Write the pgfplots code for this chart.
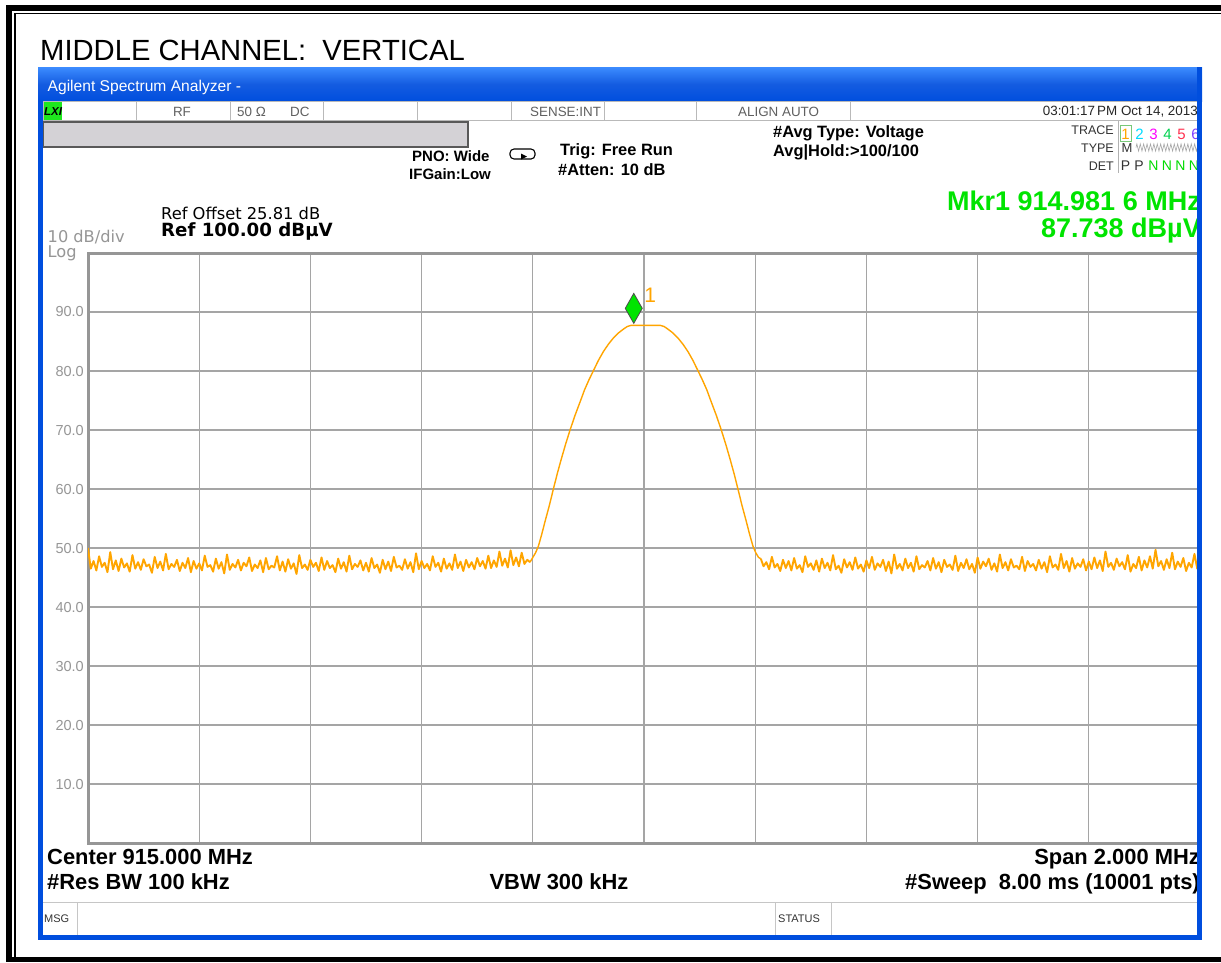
\documentclass[border=0pt]{standalone}
\usepackage{fontspec}
\setmainfont{Liberation Sans}
\newfontfamily\dejavu{DejaVu Sans}
\usepackage{pgfplots}
\usepackage{pgfplotstable}
\pgfplotsset{compat=1.18}
\usetikzlibrary{decorations.pathmorphing}
\definecolor{trace}{RGB}{255,165,0}
\definecolor{mkgreen}{RGB}{0,228,0}
\definecolor{lxigreen}{RGB}{30,230,30}
\definecolor{xpblue}{RGB}{0,78,222}
\definecolor{xplight}{RGB}{60,140,255}
\definecolor{uigray}{RGB}{96,96,96}
\definecolor{lblgray}{RGB}{150,150,150}
\definecolor{gridgray}{RGB}{165,165,165}
\definecolor{framegray}{RGB}{150,150,150}
\definecolor{boxgray}{RGB}{212,210,214}
\definecolor{boxgreen}{RGB}{120,200,120}
\definecolor{tcyan}{RGB}{0,220,255}
\definecolor{tmag}{RGB}{255,0,255}
\definecolor{tgreen}{RGB}{0,210,80}
\definecolor{tred}{RGB}{255,50,80}
\definecolor{tpurple}{RGB}{130,60,255}
\definecolor{ngreen}{RGB}{0,220,0}
\newcommand{\fs}[1]{\fontsize{#1}{#1}\selectfont}

\pgfplotstableread[row sep=\\]{y\\
50.0\\46.5\\47.8\\46.2\\48.6\\46.8\\47.5\\45.9\\49.3\\46.4\\47.9\\46.1\\48.2\\46.7\\47.4\\46.0\\48.8\\46.5\\47.6\\46.3\\
48.1\\46.9\\47.2\\45.8\\48.5\\46.6\\47.7\\46.2\\49.0\\46.4\\47.3\\46.8\\48.0\\46.1\\47.5\\46.6\\48.3\\45.9\\47.8\\46.5\\
47.4\\46.2\\48.7\\46.8\\47.1\\46.0\\48.2\\46.5\\47.6\\45.7\\48.9\\46.3\\47.3\\46.7\\48.0\\46.2\\47.5\\46.9\\48.4\\46.1\\
47.2\\46.6\\47.9\\45.9\\48.3\\46.4\\47.0\\46.7\\48.6\\46.2\\47.7\\46.0\\48.1\\46.5\\47.4\\45.6\\48.8\\46.6\\47.2\\46.3\\
48.0\\46.8\\47.5\\46.1\\48.4\\46.3\\47.8\\46.6\\47.1\\45.9\\48.2\\46.5\\47.6\\46.0\\48.7\\46.4\\47.3\\46.8\\47.9\\46.2\\
47.5\\46.0\\48.3\\46.6\\47.2\\45.8\\48.0\\46.4\\47.7\\46.1\\48.5\\46.7\\47.0\\46.3\\48.1\\46.5\\47.6\\45.9\\49.1\\46.4\\
47.8\\46.6\\47.3\\46.2\\48.6\\46.8\\47.5\\46.0\\48.2\\46.5\\47.4\\46.3\\48.9\\46.6\\47.7\\46.1\\48.0\\46.7\\47.6\\46.4\\
48.3\\46.9\\47.8\\46.5\\48.7\\46.6\\47.9\\46.8\\49.4\\47.0\\48.2\\46.7\\49.6\\47.1\\48.4\\46.9\\49.2\\47.3\\48.0\\47.6\\
}\leftnoise

\pgfplotstableread[row sep=\\]{y\\
48.2\\46.9\\47.6\\46.4\\48.5\\46.7\\47.3\\46.1\\48.0\\46.6\\47.8\\46.2\\48.3\\46.5\\47.1\\45.9\\48.6\\46.8\\47.4\\46.3\\
47.9\\46.0\\48.2\\46.6\\47.5\\46.2\\48.8\\46.4\\47.0\\45.8\\48.1\\46.7\\47.6\\46.3\\48.4\\46.5\\47.2\\46.0\\47.9\\46.6\\
48.5\\46.3\\47.4\\46.8\\48.0\\46.1\\47.7\\45.7\\48.9\\46.5\\47.3\\46.2\\48.2\\46.6\\47.5\\46.0\\48.6\\46.4\\47.1\\46.7\\
47.8\\46.2\\48.3\\46.5\\47.6\\45.9\\48.0\\46.8\\47.2\\46.3\\48.7\\46.1\\47.5\\46.6\\48.1\\46.4\\47.3\\45.8\\48.4\\46.5\\
47.7\\46.9\\48.2\\46.3\\47.4\\46.0\\48.9\\46.6\\47.6\\46.2\\48.1\\46.7\\47.0\\46.4\\48.5\\46.1\\47.8\\46.8\\47.3\\46.2\\
48.0\\46.5\\47.6\\45.9\\48.6\\46.7\\47.2\\46.3\\49.0\\46.6\\47.8\\46.0\\48.3\\46.5\\47.4\\46.8\\48.1\\46.2\\47.7\\46.4\\
48.4\\46.6\\47.9\\46.1\\49.4\\46.8\\47.5\\46.3\\48.2\\46.9\\47.6\\46.4\\48.8\\46.0\\47.3\\46.6\\48.5\\46.2\\47.9\\46.7\\
48.6\\46.5\\49.7\\46.9\\47.8\\46.3\\48.1\\46.6\\49.2\\46.4\\47.7\\46.8\\48.3\\46.1\\47.5\\46.7\\49.0\\46.5\\47.6\\
}\rightnoise

\begin{document}
\begin{tikzpicture}
\begin{scope}[x=1pt,y=-1pt]
\useasboundingbox (0,0) rectangle (1221,962);
\fill[white] (0,0) rectangle (1221,962);
% outer double frame
\fill[black] (6,5) rectangle (1221,10.5);
\fill[black] (6,5) rectangle (12,962);
\fill[black] (6,956.5) rectangle (1221,962);
\fill[black] (14,12.5) rectangle (1221,14.3);
\fill[black] (14,12.5) rectangle (15.6,956.5);
% title
\node[anchor=base west,inner sep=0] at (40,60) {\fs{29.2}MIDDLE CHANNEL:\ \ VERTICAL};
% window
\fill[xpblue] (38,67) rectangle (1202,939.5);
\shade[top color=xplight,bottom color=xpblue,middle color=xpblue!92!white] (38,67) rectangle (1202,101);
\fill[white] (43,101) rectangle (1197,935);
\node[anchor=base west,inner sep=0,text=white] at (47.5,91.5) {\fs{15.6}Agilent Spectrum Analyzer -};
% status row
\draw[gray!55,line width=1pt] (43,101.5) rectangle (1197,120.5);
\foreach \sx in {136,230,323,417,511,604,696,850}
  \draw[gray!55,line width=1pt] (\sx,101.5) -- (\sx,120.5);
\fill[lxigreen] (43.5,102) rectangle (62,120);
\node[anchor=base west,inner sep=0] at (44,115.5) {\fs{11.5}\bfseries\itshape LXI};
\node[anchor=base,inner sep=0,text=uigray] at (182,116) {\fs{13.4}RF};
\node[anchor=base west,inner sep=0,text=uigray] at (237,116) {\fs{13.4}50 Ω};
\node[anchor=base west,inner sep=0,text=uigray] at (290,116) {\fs{13.4}DC};
\node[anchor=base west,inner sep=0,text=uigray] at (530,116) {\fs{13.4}SENSE:INT};
\node[anchor=base west,inner sep=0,text=uigray] at (738,116) {\fs{13.4}ALIGN AUTO};
\node[anchor=base east,inner sep=0,text=black!85] at (1198,115.5) {\fs{13.4}03:01:17\,PM Oct 14, 2013};
% gray box
\draw[fill=boxgray,draw=black!65,line width=1.2pt] (43.5,122) rectangle (468,147);
% settings
\node[anchor=base west,inner sep=0] at (412,161) {\fs{15}\bfseries PNO: Wide};
\node[anchor=base west,inner sep=0] at (409,179) {\fs{15}\bfseries IFGain:Low};
\draw[line width=1.1pt,rounded corners=4pt] (510,149) rectangle (535,159);
\fill[black] (521,153.5) -- (527,156.5) -- (521,159.5) -- cycle;
\node[anchor=base west,inner sep=0] at (560,155) {\fs{16.4}\bfseries Trig: Free Run};
\node[anchor=base west,inner sep=0] at (558,175) {\fs{16.4}\bfseries \#Atten: 10 dB};
\node[anchor=base west,inner sep=0] at (773,137) {\fs{16.4}\bfseries \#Avg Type: Voltage};
\node[anchor=base west,inner sep=0] at (773,156) {\fs{16.4}\bfseries Avg|Hold:>100/100};
% trace table
\node[anchor=base east,inner sep=0,text=black!80] at (1114,134.5) {\fs{12.5}TRACE};
\node[anchor=base east,inner sep=0,text=black!80] at (1114,152.5) {\fs{12.5}TYPE};
\node[anchor=base east,inner sep=0,text=black!80] at (1114,170) {\fs{12.5}DET};
\draw[gray!60,line width=1pt] (1118.5,121) -- (1118.5,173);
\draw[boxgreen,line width=1pt] (1120,125) rectangle (1131,141);
\node[anchor=base,inner sep=0,text=trace] at (1125.5,139) {\fs{15}1};
\node[anchor=base,inner sep=0,text=tcyan] at (1139.5,139) {\fs{15}2};
\node[anchor=base,inner sep=0,text=tmag] at (1153.5,139) {\fs{15}3};
\node[anchor=base,inner sep=0,text=tgreen] at (1167.5,139) {\fs{15}4};
\node[anchor=base,inner sep=0,text=tred] at (1181.5,139) {\fs{15}5};
\node[anchor=base,inner sep=0,text=tpurple] at (1195.5,139) {\fs{15}6};
\node[anchor=base,inner sep=0,text=black!80] at (1127,152.5) {\fs{13}M};
\draw[gray!70,line width=0.6pt,decorate,decoration={zigzag,segment length=3.4pt,amplitude=3.6pt}] (1136,147.5) -- (1199,147.5);
\node[anchor=base,inner sep=0,text=black!80] at (1125.5,170) {\fs{14}P};
\node[anchor=base,inner sep=0,text=black!80] at (1139,170) {\fs{14}P};
\foreach \nx in {1153.5,1167,1180.5,1194}
  \node[anchor=base,inner sep=0,text=ngreen] at (\nx,170) {\fs{14}N};
% marker readout
\node[anchor=base east,inner sep=0,text=mkgreen] at (1201,210.5) {\fs{27}\bfseries Mkr1 914.981 6 MHz};
\node[anchor=base east,inner sep=0,text=mkgreen] at (1201,237.5) {\fs{27}\bfseries 87.738 dBµV};
% ref
\node[anchor=base west,inner sep=0] at (161,219.5) {\dejavu\fs{16.3}Ref Offset 25.81 dB};
\node[anchor=base west,inner sep=0] at (161,236.5) {\dejavu\fs{18.2}\bfseries Ref 100.00 dBµV};
\node[anchor=base west,inner sep=0,text=lblgray] at (47.5,242) {\dejavu\fs{16.2}10 dB/div};
\node[anchor=base west,inner sep=0,text=lblgray] at (47.5,257) {\dejavu\fs{16.2}Log};
% bottom annotations
\node[anchor=base west,inner sep=0] at (47,864) {\fs{21.9}\bfseries Center 915.000 MHz};
\node[anchor=base west,inner sep=0] at (47,889) {\fs{21.9}\bfseries \#Res BW 100 kHz};
\node[anchor=base,inner sep=0] at (559,889) {\fs{21.9}\bfseries VBW 300 kHz};
\node[anchor=base east,inner sep=0] at (1200,864) {\fs{21.9}\bfseries Span 2.000 MHz};
\node[anchor=base east,inner sep=0] at (1200,889) {\fs{21.9}\bfseries \#Sweep\ \ 8.00 ms (10001 pts)};
% status bar
\draw[gray!45,line width=1pt] (43,902) -- (1197,902);
\foreach \sx in {77,775,831}
  \draw[gray!45,line width=1pt] (\sx,902) -- (\sx,935);
\node[anchor=base west,inner sep=0,text=black!80] at (44,922) {\fs{11}MSG};
\node[anchor=base west,inner sep=0,text=black!80] at (778,922) {\fs{11}STATUS};
\end{scope}

\begin{axis}[
  at={(88pt,-843pt)}, anchor=south west,
  width=1112pt, height=590pt, scale only axis,
  xmin=914, xmax=916, ymin=0, ymax=100,
  axis line style={draw=framegray,line width=3pt},
  grid=major,
  major grid style={draw=gridgray,line width=1.1pt},
  xtick={914.2,914.4,914.6,914.8,915,915.2,915.4,915.6,915.8},
  xticklabels={},
  ytick={10,20,30,40,50,60,70,80,90},
  major tick length=0pt,
  tick style={draw=none},
  yticklabel style={font=\fs{14.5},text=lblgray,inner sep=0pt,anchor=east,xshift=-4pt,
    /pgf/number format/fixed,/pgf/number format/fixed zerofill,
    /pgf/number format/precision=1,/pgf/number format/assume math mode=true},
  clip=true,
]
\addplot[trace,line width=1.9pt,line join=round] table[x expr={914+0.005*\coordindex},y=y] {\leftnoise};
\addplot[trace,line width=1.4pt,line join=round] coordinates {
(914.795,47.6) (914.800,48.4) (914.805,49.2) (914.810,50.3) (914.816,52.3) (914.822,54.5)
(914.830,57.3) (914.837,60.0) (914.844,62.6) (914.851,65.0) (914.859,67.6) (914.867,70.0)
(914.876,72.5) (914.886,75.0) (914.893,76.8) (914.901,78.5) (914.909,80.05) (914.918,81.8)
(914.927,83.3) (914.936,84.55) (914.945,85.6) (914.954,86.45) (914.963,87.1) (914.970,87.55)
(914.977,87.74) (915.029,87.74)
(915.036,87.55) (915.043,87.1) (915.052,86.45) (915.061,85.6) (915.070,84.55) (915.079,83.3)
(915.088,81.8) (915.097,80.05) (915.105,78.5) (915.113,76.8) (915.120,75.0) (915.130,72.5)
(915.139,70.0) (915.147,67.6) (915.155,65.0) (915.162,62.6) (915.169,60.0) (915.176,57.3)
(915.184,54.5) (915.190,52.3) (915.196,50.3) (915.201,49.2) (915.206,48.4) (915.210,48.2)};
\addplot[trace,line width=1.9pt,line join=round] table[x expr={915.21+0.005*\coordindex},y=y] {\rightnoise};
\addplot[only marks,mark=diamond*,mark size=15pt,
  mark options={fill=mkgreen,draw=black!70,line width=0.8pt,xscale=0.756,yshift=17pt}]
  coordinates {(914.9816,87.738)};
\node[anchor=base west,inner sep=0,text=trace,xshift=10.5pt,yshift=23pt] at (axis cs:914.9816,87.738) {\fs{21}1};
\end{axis}

\begin{scope}[x=1pt,y=-1pt]
\fill[xpblue] (1197,67) rectangle (1202,939.5);
\fill[xpblue] (38,101) rectangle (43,939.5);
\fill[xpblue] (38,935) rectangle (1202,939.5);
\end{scope}
\end{tikzpicture}
\end{document}
